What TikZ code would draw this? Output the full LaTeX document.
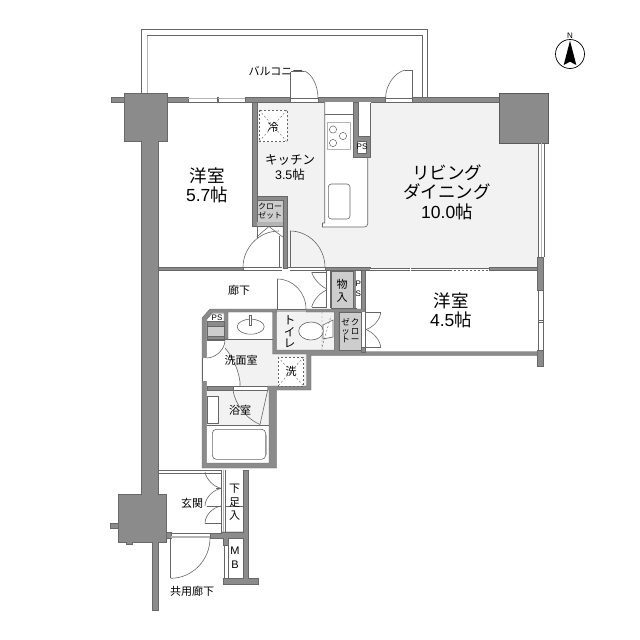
\documentclass[tikz,border=0pt]{standalone}
\usepackage{fontspec}
\setmainfont{Liberation Sans}
\newfontfamily\jp{Noto Sans CJK JP}
\usetikzlibrary{calc}
\definecolor{wallc}{HTML}{8B8B8B}
\definecolor{wedge}{HTML}{5A5A5A}
\definecolor{floorc}{HTML}{F2F2F2}
\definecolor{closetc}{HTML}{CDCDCD}
\definecolor{linec}{HTML}{666666}
\definecolor{lightl}{HTML}{B4B4B4}
\tikzset{
  wall/.style={fill=wallc,draw=wallc!75!black,line width=.4pt},
  strongwall/.style={fill=wallc,draw=wedge,line width=.8pt},
  fl/.style={fill=floorc,draw=none},
  closet/.style={fill=closetc,draw=linec,line width=.4pt},
  fine/.style={draw=linec,line width=.6pt},
  pale/.style={draw=lightl,line width=1pt},
  dashline/.style={draw=linec,line width=.6pt,dash pattern=on 2pt off 2pt},
  big/.style={font=\fontsize{17.5}{19.5}\selectfont,align=center,inner sep=0pt},
  mid/.style={font=\fontsize{12.5}{15}\selectfont,align=center,inner sep=0pt},
  small/.style={font=\jp\fontsize{11}{13}\selectfont,align=center,inner sep=0pt},
  tiny/.style={font=\jp\fontsize{8}{9.5}\selectfont,align=center,inner sep=0pt},
  latin/.style={font=\fontsize{8}{9.5}\selectfont,align=center,inner sep=0pt},
}
\newcommand{\qarc}[3]{\draw[fine] (#1) .. controls ($(#1)!.55!(#2)$) and ($(#3)!.55!(#2)$) .. (#3);}
\newcommand{\bx}[4]{(#1,#2) rectangle (#3,#4)}
\begin{document}
\begin{tikzpicture}[x=1pt,y=-1pt]
\useasboundingbox (0,0) rectangle (640,640);
\fill[white] (0,0) rectangle (640,640);
% floors
\fill[fl] (257,102) -- (538,102) -- (538,268) -- (287,268) -- (287,196) -- (257,196) -- cycle;
\fill[fl] \bx{277}{312}{334}{350};
\fill[fl] (225,339) -- (307,339) -- (307,386) -- (240,386) -- (240,381.7) .. controls (238,368) and (232,356) .. (225,348) -- cycle;
\fill[fl] \bx{207}{390}{269}{425};
% balcony
\draw[draw=linec,line width=.8pt] (141.7,93) -- (141.7,29.5) -- (427.5,29.5) -- (427.5,98);
\draw[draw=lightl,line width=1pt] (147,93) -- (147,35.2);
\draw[draw=linec,line width=.7pt] (147,35.2) -- (422.3,35.2) -- (422.3,98);
% top wall
\draw[wall] \bx{111}{97.5}{188}{102.5};
\draw[wall] \bx{245}{97.5}{290}{102.5};
\draw[wall] \bx{318}{97.5}{385.6}{102.5};
\draw[wall] \bx{412}{97.5}{500}{102.5};
\draw[wall] \bx{216.7}{97.5}{218.3}{102.5};
\foreach \a/\b in {188/216.7,218.3/245}{
  \draw[pale] (\a,98) -- (\b,98);
  \draw[fine,line width=.4pt] (\a,102.3) -- (\b,102.3);
}
\draw[fine,line width=.5pt] (290,98) -- (318,98) (290,102.5) -- (318,102.5);
\draw[fine,line width=.5pt] (385.6,98) -- (412,98) (385.6,102.5) -- (412,102.5);
% columns and left wall
\draw[wall] (124,93) -- (167,93) -- (167,141) -- (158,141) -- (158,494) -- (166,494) -- (166,542) -- (158,542) -- (158,610) -- (152,610) -- (152,542) -- (132,542) -- (132,544.5) -- (126,544.5) -- (126,542) -- (118.5,542) -- (118.5,494) -- (141.5,494) -- (141.5,141) -- (124,141) -- cycle;
\draw[wall] \bx{110}{523}{118.5}{528.5};
\draw[strongwall] \bx{499}{93}{548.7}{143.3};
% east side
\draw[pale] (541.5,143.3) -- (541.5,257);
\draw[fine,line width=.6pt] (538,143.3) -- (538,257) (544,143.3) -- (544,257);
\draw[wall] \bx{537.5}{257}{543.5}{290};
\draw[fine,line width=.5pt] (538,290) -- (538,350) (543.5,290) -- (543.5,350) (538,320) -- (543.5,320) (538,322) -- (543.5,322);
\draw[wall] \bx{537.5}{350}{543.5}{366};
% kitchen wall and closet
\draw[wall] \bx{252.3}{102}{256.8}{226};
\draw[closet] \bx{256.8}{200}{282.8}{222};
\draw[wall] (256.8,196.5) -- (286.8,196.5) -- (286.8,268) -- (282.8,268) -- (282.8,200) -- (256.8,200) -- cycle;
\fill[lightl] (256.8,222) rectangle (282.8,226);
\draw[fine,line width=.4pt] (256.8,226) -- (282.8,226);
% horizontal wall between rooms
\draw[wall] \bx{158}{267.5}{243}{270.5};
\draw[wall] \bx{325}{267.5}{370}{270.5};
\draw[wall] \bx{489}{267.5}{537.5}{270.5};
\draw[fine,line width=.4pt] (243,267.5) -- (282,267.5) (243,270.5) -- (282,270.5) (290,267.5) -- (325,267.5) (290,270.5) -- (325,270.5);
\draw[fine,line width=.4pt] (279,236) -- (279,267.5) (287,267.5) -- (290,267.5);
% doors near kitchen
\qarc{279,231}{243,231}{243,267.5}
\qarc{290,231}{325,231}{325,267.5}
\draw[fine] (290,231) -- (290,267.5);
\qarc{256.8,237}{262,232}{269,226.5}
\qarc{282.8,237}{276,232}{269,226.5}
\draw[fine,line width=.4pt] (256.8,226) -- (256.8,238) (282.8,226) -- (282.8,238);
% living windows
\foreach \a/\b in {370/410,410.5/450}{
  \fill[white] (\a,268) rectangle (\b,270);
  \draw[fine,line width=.5pt] (\a,267.8) -- (\b,267.8) (\a,270.3) -- (\b,270.3);
}
\fill[white] (450,268) rectangle (489,270);
\draw[fine,line width=.5pt] (450,267.8) -- (489,267.8);
\draw[dashline] (450,270.3) -- (489,270.3);
% kitchen counter
\fill[white] (324.7,102) -- (353,102) -- (353,157) -- (367.7,157) -- (367.7,224) .. controls (367.7,226) and (366,227) .. (364,227) -- (322.5,227) -- (322.5,223) -- (324.7,223) -- cycle;
\draw[fine] (324.7,102) -- (324.7,223) -- (322.5,223) -- (322.5,227) -- (364,227) .. controls (366,227) and (367.7,226) .. (367.7,224) -- (367.7,157);
\draw[fine] (324.7,114) -- (353,114);
\draw[fine,fill=white,draw=lightl] \bx{327.3}{122.7}{350.7}{149.7};
\foreach \px/\py in {333/129.5,343/136,333/143}{\draw[fine,line width=.5pt] (\px,\py) circle (3.6);}
\draw[fine,rounded corners=3pt,fill=white] \bx{328.3}{184}{350}{219};
% PS shaft
\fill[white] \bx{357}{102}{370.5}{136};
\draw[fine] (370.5,102.5) -- (370.5,136);
\draw[wall] (353,102) -- (358,102) -- (358,136) -- (370.5,136) -- (370.5,157) -- (353,157) -- cycle;
\fill[white] \bx{357.5}{141}{366.5}{153};
\draw[fine,line width=.4pt] \bx{357.5}{141}{366.5}{153};
% fridge
\fill[white] \bx{259}{110}{287}{141.7};
\draw[dashline] \bx{259}{110}{287}{141.7};
\draw[dashline,line width=.4pt] (259,110) -- (287,141.7) (287,110) -- (259,141.7);
% storage block
\draw[closet] \bx{331}{271}{352.7}{308};
\draw[fine,line width=.5pt] (326.7,270.5) -- (326.7,308) (330,270.5) -- (330,308);
\draw[wall] \bx{352.7}{270}{356}{308};
\fill[white] \bx{356}{270.5}{360.7}{308};
\draw[fine,line width=.4pt] (356,270.5) -- (360.7,270.5);
\draw[wall] \bx{360.7}{270}{364.7}{312};
% corridor / wet wall
\draw[wall] (202,318) -- (210,309) -- (277,309) -- (277,312) -- (228,312) -- (228,339) -- (224,339) -- (224,312.5) -- (212,312.5) -- (206.7,318.5) -- (206.7,463) -- (269,463) -- (269,390) -- (267.7,390) -- (267.7,386) -- (306.7,386) -- (306.7,354) -- (272.7,354) -- (272.7,312) -- (276.7,312) -- (276.7,350) -- (334.3,350) -- (334.3,312) -- (306,312) -- (306,309) -- (365,309) -- (365,312) -- (339,312) -- (339,350.5) -- (365,350.5) -- (365,351.7) -- (537.5,351.7) -- (537.5,355.5) -- (311,355.5) -- (311,390) -- (276.7,390) -- (276.7,468) -- (202,468) -- cycle;
\fill[lightl] (277,309.5) rectangle (306,312);
\draw[fine,line width=.4pt] (277,309.3) -- (306,309.3);
% opening in the wash room's west wall
\fill[white] \bx{202.4}{358}{206.7}{381};
\draw[fine,line width=.4pt] (202.4,358) -- (202.4,381);
% wash wall pieces
\draw[wall] \bx{206.7}{386}{233}{390};
\draw[fine,line width=.4pt] (233,386) -- (267.7,386) (233,390) -- (267.7,390);
% PS in wash
\fill[white] (212,313.5) -- (224,313.5) -- (224,321.5) -- (207,321.5) -- (207,319) -- cycle;
\draw[fine,line width=.4pt] (212,313.5) -- (224,313.5) -- (224,321.5) -- (207,321.5) -- (207,319) -- cycle;
\draw[wall] \bx{206.7}{321.5}{224}{325.7};
\draw[closet] \bx{207}{325.7}{224}{335.7};
\draw[wall] \bx{206.7}{335.7}{224}{339};
\draw[fine,line width=.4pt] (207,339) -- (228,339);
% sink
\draw[fine] (250.7,326.7) ellipse (13.5 and 7.5);
\draw[fine,line width=.4pt,fill=white] \bx{249.5}{315}{251.5}{325};
\draw[fine,line width=.4pt] (228,339) -- (272.7,339);
% wash doors
\draw[fine,line width=.5pt] (207,340.7) -- (225,340.7);
\qarc{225,340.7}{224,357}{207,358}
\draw[fine] (225,348) .. controls (232,356) and (238,368) .. (240,381.7) -- (240,386);
% washer
\fill[white] \bx{278}{357}{303.7}{386};
\draw[dashline] \bx{278}{357}{303.7}{386};
\draw[dashline,line width=.4pt] (278,357) -- (303.7,386) (303.7,357) -- (278,386);
% toilet
\draw[fine,fill=white] (323,325) -- (333,320) -- (333,337) -- (323,339) -- cycle;
\draw[fine,fill=white] (311,331) ellipse (12.3 and 9);
\draw[dashline,line width=.4pt] (322,312) -- (322,350) (322,347) -- (331,316);
% toilet door
\draw[fine] (277.3,279) -- (277.3,309);
\qarc{277.3,279}{306,279}{306,309}
% storage bifold
\draw[fine,line width=.5pt] (311.7,272.3) -- (327,272.3) (311.7,307) -- (327,307);
\qarc{311.7,272.3}{315,284}{327,289}
\qarc{311.7,307}{315,294}{327,290}
% second closet
\draw[closet] \bx{339}{312}{360.7}{350.5};
\fill[white] \bx{360.7}{312}{365}{347.3};
\draw[fine,line width=.4pt] (360.7,312) -- (360.7,347.3) (365,312) -- (365,347.3);
\draw[wall] \bx{360.7}{347.3}{365}{352};
\draw[fine,line width=.5pt] (365,312.3) -- (380.7,312.3) (365,347.3) -- (380.7,347.3);
\qarc{380.7,312.3}{380,325}{366,329.5}
\qarc{380.7,347.3}{380,335}{366,329.5}
% bath fittings
\fill[white] \bx{207}{396}{218.3}{423};
\draw[fine,line width=.5pt] \bx{207}{396}{218.3}{423};
\draw[fine] (207,425) -- (269,425);
\draw[fine,rounded corners=4pt,draw=linec] \bx{212.3}{429.3}{265.7}{459.3};
\draw[lightl,line width=.8pt] (266,435) -- (266,455);
\qarc{233,390}{236,415}{260,424.5}
\draw[fine] (260,424.5) -- (267.7,390);
% entry
\draw[wall] \bx{166}{531.7}{171}{538};
\draw[wall] (210,533) -- (221,533) -- (221,531.7) -- (243,531.7) -- (243,470) -- (248,470) -- (248,578.5) -- (258,578.5) -- (258,584) -- (223,584) -- (223,578.5) -- (243,578.5) -- (243,538) -- (228,538) -- (228,545) -- (223,545) -- (223,538) -- (210,538) -- cycle;
\draw[fine,line width=.4pt] (228,545) -- (228,578.5) (224,545) -- (224,578.5);
\draw[fine] (171,533) -- (210,533);
\draw[lightl,line width=1.2pt] (171,537) -- (210,537);
\draw[fine] (170.7,538) -- (170.7,578.3);
\qarc{170.7,578.3}{210,578.3}{210,538}
\draw[fine,line width=.5pt] (158,470) -- (221,470) (158,473.7) -- (221,473.7);
\draw[fine,line width=.6pt] (225,470) -- (225,531.7) (221,470) -- (221,531.7);
\draw[lightl,line width=.8pt] (223,470) -- (223,531.7);
\draw[fine,line width=.4pt] (225,506) -- (243,506);
\draw[fine,line width=.5pt] (216,488.3) -- (221,488.3) (206.7,506) -- (221,506) (205,523.3) -- (221,523.3);
\qarc{205,472}{207,485}{221,488.3}
\qarc{221,488.3}{205,492}{205,506}
\qarc{221,506}{205,509}{205,523.3}
% north
\draw[draw=black,line width=.7pt] (570,54) circle (14.5);
\fill[black] (570,40.7) -- (576.3,65) -- (570,61.7) -- (563.7,65) -- cycle;
% labels
\node[small] (balc) at (276,71) {バルコニー};
\draw[fine] (291,71) -- (304,71);
\draw[fine] (290,72) -- (290,98);
\qarc{304,71}{318,75}{318,98}
\draw[fine] (412,70) -- (412,98);
\draw[fine] (412,70) -- (405,70);
\qarc{405,70}{385.6,75}{385.6,98}
\node[big] (r1) at (207,185.5) {{\jp 洋室}\\5.7{\jp 帖}};
\node[mid] (kit) at (290,168) {{\jp キッチン}\\3.5{\jp 帖}};
\node[big] (ld) at (447,192) {{\jp リビング}\\{\jp ダイニング}\\10.0{\jp 帖}};
\node[big] (r2) at (451,310.5) {{\jp 洋室}\\4.5{\jp 帖}};
\node[small] (cor) at (239,290) {廊下};
\node[small] (cup1) at (342,290.5) {物\\入};
\node[latin] (ps1) at (358.3,289) {P\\S};
\node[latin] (ps2) at (362,147) {PS};
\node[latin] (ps3) at (217,317.5) {PS};
\node[tiny] (cl1) at (270,211) {クロー\\ゼット};
\node[small] (fr) at (273,127) {冷};
\node[small] (wl) at (291,371) {洗};
\node[small] (wr) at (241,360) {洗面室};
\node[small] (br) at (240,410) {浴室};
\node[small,font=\jp\fontsize{11.5}{11.5}\selectfont] (wc) at (289.5,332) {ト\\イ\\レ};
\node[tiny,font=\jp\fontsize{8.5}{8.5}\selectfont] (cl2a) at (355,331) {ク\\ロ\\ー};
\node[tiny,font=\jp\fontsize{8.5}{8.5}\selectfont] (cl2b) at (345.5,331) {ゼ\\ッ\\ト};
\node[small] (gk) at (192,503) {玄関};
\node[small,font=\jp\fontsize{11}{13.5}\selectfont] (sh) at (234.5,502.5) {下\\足\\入};
\node[latin,font=\fontsize{11}{14}\selectfont] (mb) at (235,558) {M\\B};
\node[small] (kc) at (192,591) {共用廊下};
\node[font=\fontsize{8}{8}\selectfont,inner sep=0pt] (nn) at (570,35.5) {N};
\end{tikzpicture}
\end{document}
